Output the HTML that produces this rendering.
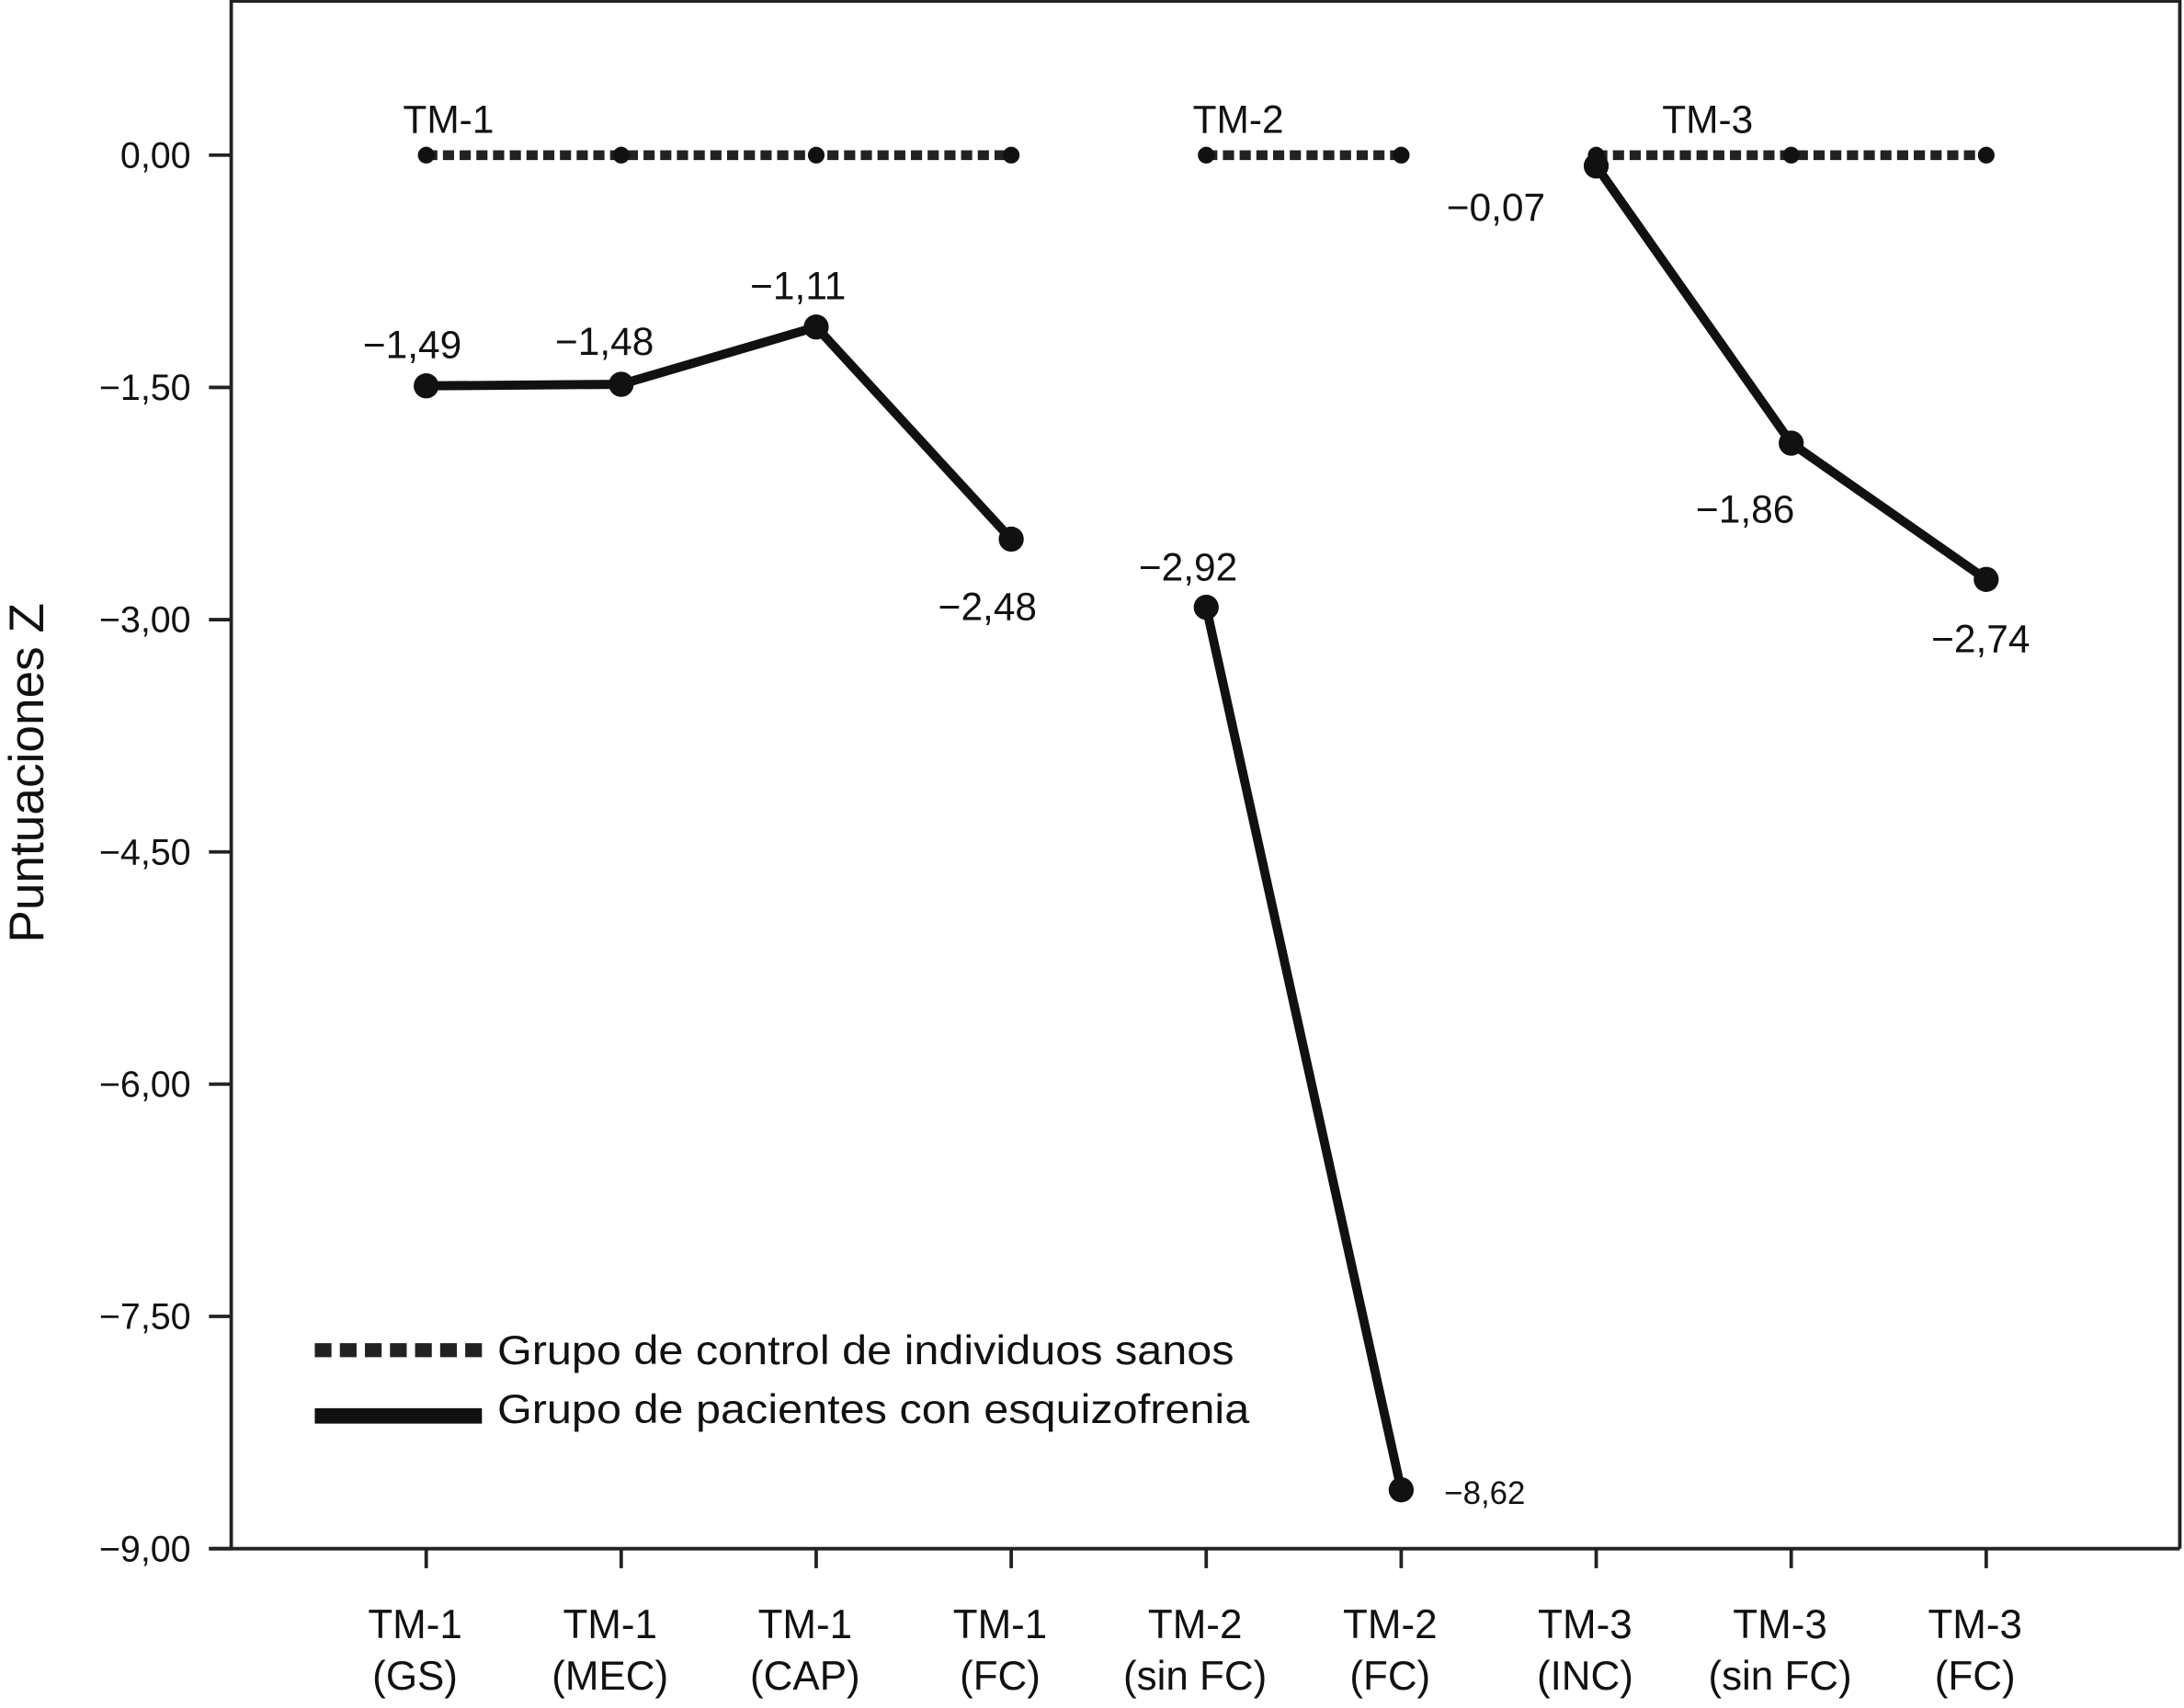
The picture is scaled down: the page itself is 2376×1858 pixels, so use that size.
<!DOCTYPE html>
<html><head><meta charset="utf-8"><style>
html,body{margin:0;padding:0;background:#fff;}
svg{display:block;}
text{font-family:"Liberation Sans",Arial,sans-serif;fill:#111;}
</style></head><body>
<svg id="chart" width="2376" height="1858" viewBox="0 0 1568 1222" preserveAspectRatio="none" xmlns="http://www.w3.org/2000/svg">
<g id="frame">
<line x1="166" y1="1" x2="1565" y2="1" stroke="#222" stroke-width="2"/>
<line x1="166" y1="0" x2="166" y2="1108" stroke="#222" stroke-width="2.5"/>
<line x1="1565" y1="0" x2="1565" y2="1108" stroke="#222" stroke-width="2.5"/>
<line x1="150" y1="1108" x2="1565" y2="1108" stroke="#222" stroke-width="2.5"/>
</g>
<text transform="translate(31,553) rotate(-90)" text-anchor="middle" font-size="35">Puntuaciones Z</text>
<g id="yaxis"></g>
<g id="xaxis"></g>
<g id="series"></g>
<g>
<line x1="226" y1="966" x2="346" y2="966" stroke="#222" stroke-width="10" stroke-dasharray="12,6"/>
<text x="357" y="976" font-size="29" textLength="529" lengthAdjust="spacingAndGlyphs">Grupo de control de individuos sanos</text>
<line x1="226" y1="1013" x2="346" y2="1013" stroke="#111" stroke-width="11"/>
<text x="357" y="1018" font-size="29" textLength="540" lengthAdjust="spacingAndGlyphs">Grupo de pacientes con esquizofrenia</text>
</g>
</svg>
<script>
const categoriesTop = ["TM-1","TM-1","TM-1","TM-1","TM-2","TM-2","TM-3","TM-3","TM-3"];
const categoriesBottom = ["(GS)","(MEC)","(CAP)","(FC)","(sin FC)","(FC)","(INC)","(sin FC)","(FC)"];
const groupIndex = [0,0,0,0,1,1,2,2,2];
const groupNames = ["TM-1","TM-2","TM-3"];
const controlValues = [0,0,0,0,0,0,0,0,0];
const patientValues = [-1.49,-1.48,-1.11,-2.48,-2.92,-8.62,-0.07,-1.86,-2.74];
const patientLabels = ["−1,49","−1,48","−1,11","−2,48","−2,92","−8,62","−0,07","−1,86","−2,74"];
const yTicks = [0,-1.5,-3,-4.5,-6,-7.5,-9];
const yTickLabels = ["0,00","−1,50","−3,00","−4,50","−6,00","−7,50","−9,00"];

const NS="http://www.w3.org/2000/svg";
const X=i=>306+i*140;
const Y=v=>111+(-v)*(997/9);
function mk(tag,attrs,parent){const e=document.createElementNS(NS,tag);for(const k in attrs)e.setAttribute(k,attrs[k]);parent.appendChild(e);return e;}
const yaxis=document.getElementById('yaxis'),xaxis=document.getElementById('xaxis'),series=document.getElementById('series');
yTicks.forEach((t,i)=>{
  const l=mk('line',{x1:150,x2:166,y1:Y(t),y2:Y(t),stroke:'#222','stroke-width':2.5},yaxis);
  
  
  const tx=mk('text',{x:137,y:Y(t)+9,'text-anchor':'end','font-size':26},yaxis);
  tx.textContent=yTickLabels[i];
  
  
});
categoriesTop.forEach((c,i)=>{
  const l=mk('line',{x1:X(i),x2:X(i),y1:1108,y2:1122,stroke:'#222','stroke-width':2.5},xaxis);
  
  
  const t1=mk('text',{x:X(i)-8,y:1172,'text-anchor':'middle','font-size':29},xaxis);
  t1.textContent=c;
  
  
  const t2=mk('text',{x:X(i)-8,y:1209,'text-anchor':'middle','font-size':29},xaxis);
  t2.textContent=categoriesBottom[i];
  
  
});
const groupOff=[16,23,80];
groupNames.forEach((g,gi)=>{
  const idx=groupIndex.map((v,i)=>v===gi?i:-1).filter(i=>i>=0);
  const pts=idx.map(i=>X(i)+','+Y(controlValues[i])).join(' ');
  const pl=mk('polyline',{points:pts,fill:'none',stroke:'#222','stroke-width':7,'stroke-dasharray':'8,4'},series);
  
  
  const gl=mk('text',{x:X(idx[0])+groupOff[gi],y:Y(0)-16,'text-anchor':'middle','font-size':28},series);
  gl.textContent=g;
  
  
  const pts2=idx.map(i=>X(i)+','+Y(patientValues[i])).join(' ');
  const pl2=mk('polyline',{points:pts2,fill:'none',stroke:'#111','stroke-width':6.5},series);
  
  
});
controlValues.forEach((v,i)=>{
  const c=mk('circle',{cx:X(i),cy:Y(v),r:6,fill:'#111'},series);
  
  
});
const offs=[[-10,-20],[-12,-21],[-13,-20],[-17,58],[-13,-19],[60,10],[-72,39],[-33,57],[-4,52]];
patientValues.forEach((v,i)=>{
  const c=mk('circle',{cx:X(i),cy:Y(v),r:9,fill:'#111'},series);
  
  
  const t=mk('text',{x:X(i)+offs[i][0],y:Y(v)+offs[i][1],'text-anchor':'middle','font-size':i===5?23:28},series);
  t.textContent=patientLabels[i];
  
  
});
</script>
</body></html>
